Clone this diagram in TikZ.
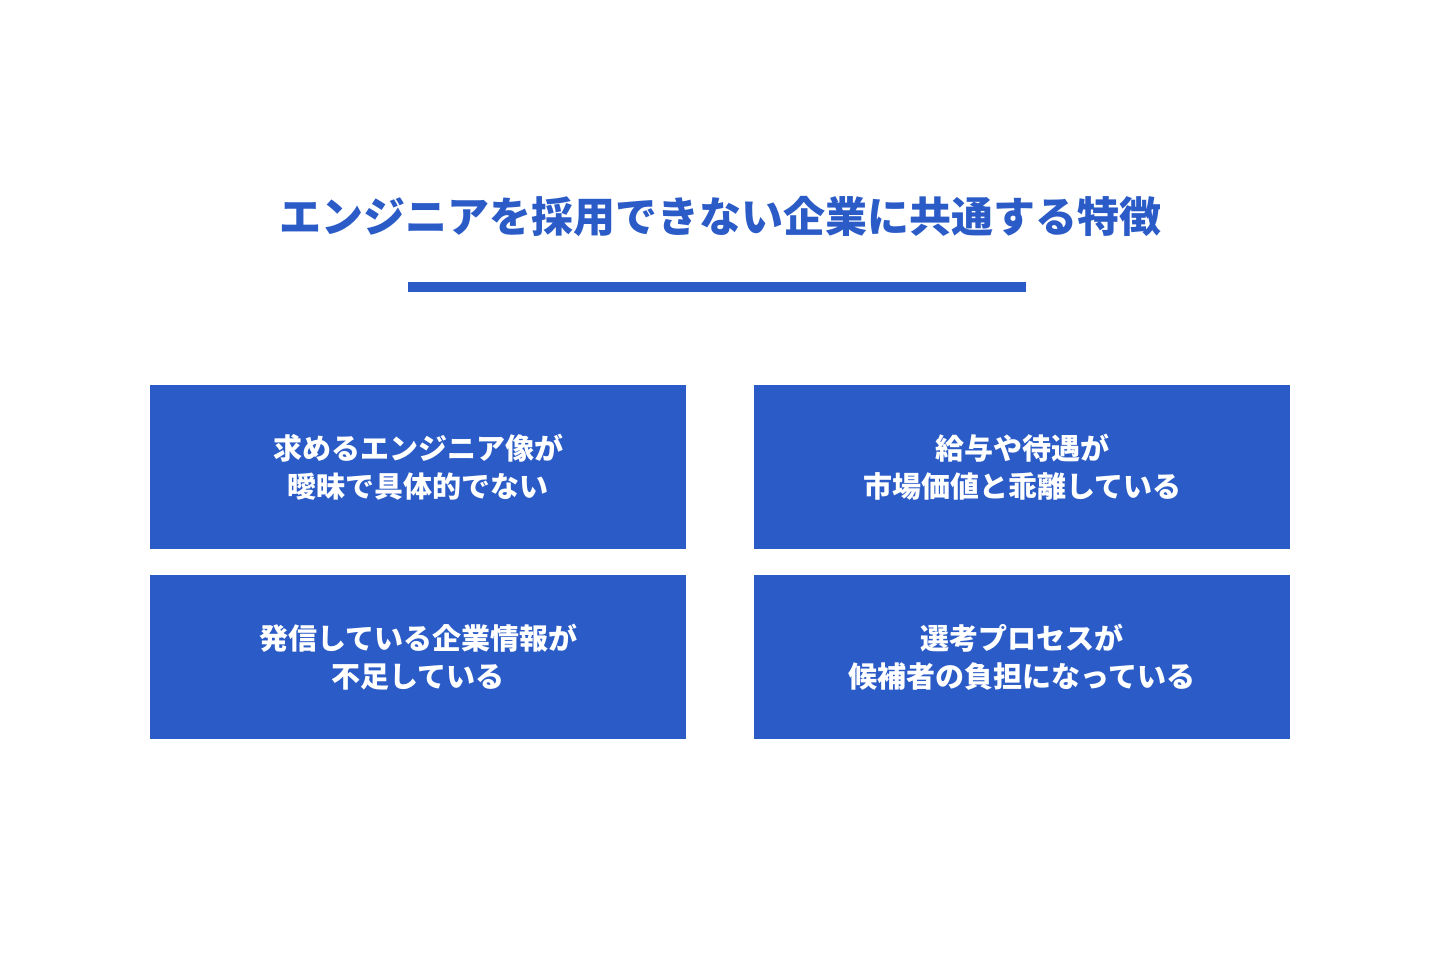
\documentclass[tikz,border=0pt]{standalone}
\usepackage{fontspec}
\newfontfamily\cjk{Noto Sans CJK JP}
\definecolor{mainblue}{HTML}{2A5BC7}
\tikzset{
  card/.style={fill=mainblue, draw=none, minimum width=536pt, minimum height=164pt, anchor=north west, text=white, align=center, font=\cjk\bfseries\fontsize{29pt}{38pt}\selectfont, inner sep=0pt}
}
\begin{document}
\begin{tikzpicture}[x=1pt,y=-1pt]
\useasboundingbox (0,0) rectangle (1440,960);
\node[text=mainblue, font=\cjk\bfseries\fontsize{42pt}{50pt}\selectfont] (title) at (720,217) {エンジニアを採用できない企業に共通する特徴};
\fill[mainblue] (408,282) rectangle (1026,292);
\node[card] (a) at (150,385) {求めるエンジニア像が\\曖昧で具体的でない};
\node[card] (b) at (754,385) {給与や待遇が\\市場価値と乖離している};
\node[card] (c) at (150,575) {発信している企業情報が\\不足している};
\node[card] (d) at (754,575) {選考プロセスが\\候補者の負担になっている};
\end{tikzpicture}
\end{document}
